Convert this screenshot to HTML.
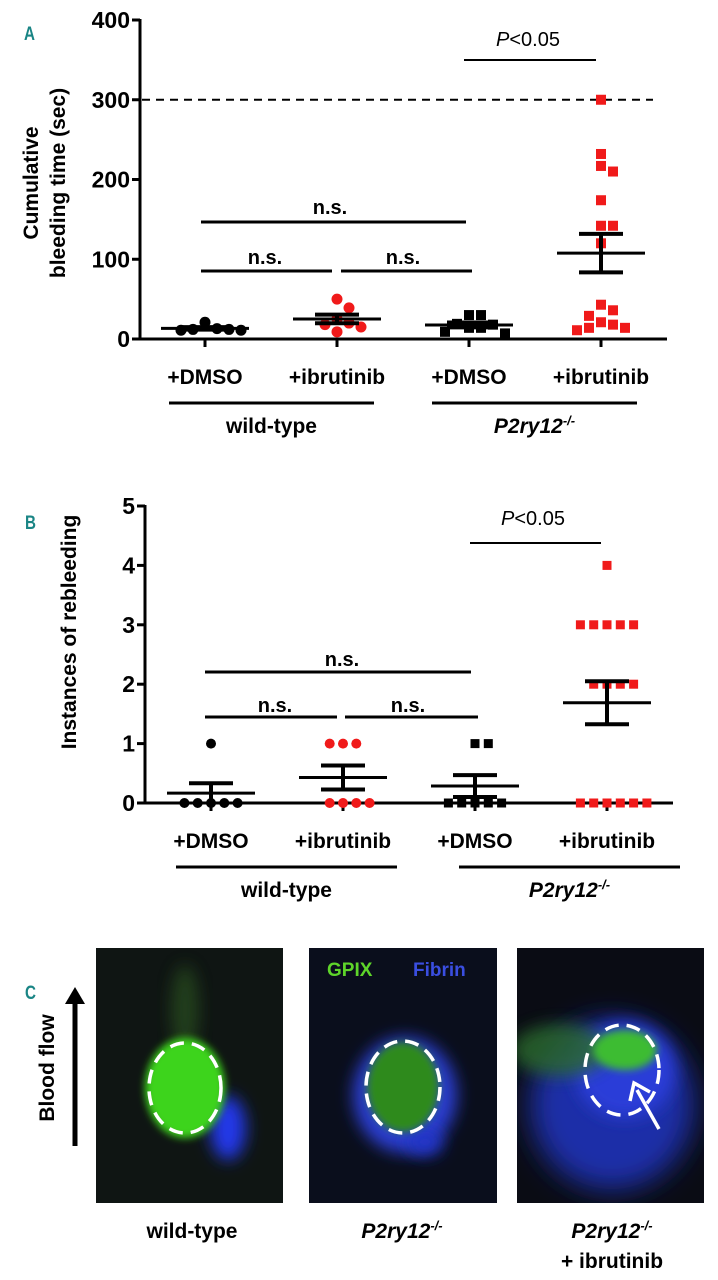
<!DOCTYPE html>
<html><head><meta charset="utf-8"><style>
html,body{margin:0;padding:0;background:#fff;}
svg{display:block;font-family:"Liberation Sans",sans-serif;}
.b{font-weight:bold;}
</style></head><body>
<svg id="fig" width="718" height="1280" viewBox="0 0 718 1280" xmlns="http://www.w3.org/2000/svg">
<defs>
<filter id="bl8" x="-50%" y="-50%" width="200%" height="200%"><feGaussianBlur stdDeviation="8"/></filter>
<filter id="bl4" x="-50%" y="-50%" width="200%" height="200%"><feGaussianBlur stdDeviation="4"/></filter>
<filter id="bl14" x="-50%" y="-50%" width="200%" height="200%"><feGaussianBlur stdDeviation="14"/></filter>
<clipPath id="c1"><rect x="96" y="948" width="187" height="255"/></clipPath>
<clipPath id="c2"><rect x="309" y="948" width="188" height="255"/></clipPath>
<clipPath id="c3"><rect x="517" y="948" width="187" height="255"/></clipPath>
</defs>

<!-- Panel letters -->
<text x="24" y="40" font-size="19" class="b" fill="#1a8585" transform="translate(24 0) scale(0.8 1) translate(-24 0)">A</text>
<text x="25" y="529" font-size="19" class="b" fill="#1a8585" transform="translate(25 0) scale(0.8 1) translate(-25 0)">B</text>
<text x="25" y="999" font-size="19" class="b" fill="#1a8585" transform="translate(25 0) scale(0.8 1) translate(-25 0)">C</text>

<!-- Panel A axes -->
<g id="axesA"></g>
<g id="marksA"></g>
<text class="b" font-size="21" text-anchor="middle" transform="translate(38 183) rotate(-90)">Cumulative</text>
<text class="b" font-size="21" text-anchor="middle" transform="translate(65 183) rotate(-90)">bleeding time (sec)</text>

<!-- Panel B -->
<g id="axesB"></g>
<g id="marksB"></g>
<text class="b" font-size="21" text-anchor="middle" transform="translate(76 632) rotate(-90)">Instances of rebleeding</text>

<!-- Panel C -->
<g>
<text class="b" font-size="21" text-anchor="middle" transform="translate(54 1068) rotate(-90)">Blood flow</text>
<line x1="75" y1="1146" x2="75" y2="1002" stroke="#000" stroke-width="5"/>
<polygon points="65,1004 85,1004 75,987" fill="#000"/>
</g>

<g clip-path="url(#c1)">
<rect x="96" y="948" width="187" height="255" fill="#0f1513"/>
<ellipse cx="185" cy="1010" rx="14" ry="45" fill="#2e5a22" opacity="0.6" filter="url(#bl8)"/>
<ellipse cx="228" cy="1128" rx="18" ry="32" fill="#2238e8" filter="url(#bl8)"/>
<ellipse cx="185" cy="1088" rx="40" ry="50" fill="#3ed41e" filter="url(#bl4)"/>
<ellipse cx="185" cy="1088" rx="36" ry="45" fill="none" stroke="#fff" stroke-width="3.5" stroke-dasharray="14 8"/>
</g>
<g clip-path="url(#c2)">
<rect x="309" y="948" width="188" height="255" fill="#0a0e1c"/>
<ellipse cx="405" cy="1095" rx="52" ry="58" fill="#2a3cd0" filter="url(#bl8)"/>
<ellipse cx="425" cy="1142" rx="18" ry="14" fill="#2434c8" filter="url(#bl8)"/>
<ellipse cx="403" cy="1087" rx="36" ry="45" fill="#2f8a1f" filter="url(#bl4)"/>
<ellipse cx="403" cy="1087" rx="37" ry="46" fill="none" stroke="#fff" stroke-width="3.5" stroke-dasharray="14 8"/>
<text class="b" font-size="19" x="327" y="976" fill="#5ed52a">GPIX</text>
<text class="b" font-size="19" x="413" y="976" fill="#3a4ee0">Fibrin</text>
</g>
<g clip-path="url(#c3)">
<rect x="517" y="948" width="187" height="255" fill="#0a0c14"/>
<ellipse cx="612" cy="1105" rx="82" ry="85" fill="#1e2ea8" filter="url(#bl14)"/>
<ellipse cx="625" cy="1070" rx="50" ry="48" fill="#2a3ed8" filter="url(#bl8)"/>
<ellipse cx="560" cy="1050" rx="48" ry="26" fill="#2c6a2a" opacity="0.8" filter="url(#bl8)"/>
<ellipse cx="625" cy="1050" rx="32" ry="20" fill="#3cbc30" filter="url(#bl4)"/>
<ellipse cx="622" cy="1070" rx="37" ry="45" fill="none" stroke="#fff" stroke-width="3.5" stroke-dasharray="14 8"/>
<line x1="659" y1="1129" x2="637" y2="1090" stroke="#fff" stroke-width="3.5"/>
<polyline points="630,1101 634,1083 650,1092" fill="none" stroke="#fff" stroke-width="3.5"/>
</g>
<text class="b" font-size="21" text-anchor="middle" x="192" y="1238">wild-type</text>
<text class="b" font-size="21" text-anchor="middle" x="402" y="1238" font-style="italic">P2ry12<tspan font-size="13" dy="-8">-/-</tspan></text>
<text class="b" font-size="21" text-anchor="middle" x="612" y="1238" font-style="italic">P2ry12<tspan font-size="13" dy="-8">-/-</tspan></text>
<text class="b" font-size="21" text-anchor="middle" x="612" y="1268">+ ibrutinib</text>
</svg>
<script>
// Panel A data (cumulative bleeding time, sec)
const categories = ["+DMSO", "+ibrutinib", "+DMSO", "+ibrutinib"];
const bleedWtDmso = [21, 12, 11, 11, 12, 13];
const bleedWtIbru = [50, 39, 25, 18, 15, 20, 9];
const bleedKoDmso = [30, 30, 19, 14, 18, 7, 9, 14];
const bleedKoIbru = [300, 232, 217, 210, 174, 142, 142, 120, 43, 36, 29, 21, 14, 11, 14, 18];
const ticksA = [0, 100, 200, 300, 400];
// Panel B data (instances of rebleeding)
const rebWtDmso = [1, 0, 0, 0, 0, 0];
const rebWtIbru = [1, 1, 1, 0, 0, 0, 0];
const rebKoDmso = [1, 1, 0, 0, 0, 0, 0];
const rebKoIbru = [4, 3, 3, 3, 3, 3, 2, 2, 2, 2, 0, 0, 0, 0, 0, 0];
const ticksB = [0, 1, 2, 3, 4, 5];
const cutoffA = 300;

const NS = "http://www.w3.org/2000/svg";
function mk(parent, tag, attrs, txt) {
  const e = document.createElementNS(NS, tag);
  for (const k in attrs) e.setAttribute(k, attrs[k]);
  if (txt !== undefined) e.textContent = txt;
  parent.appendChild(e);
  return e;
}
function stats(a) {
  const m = a.reduce((s, v) => s + v, 0) / a.length;
  const v = a.reduce((s, x) => s + (x - m) * (x - m), 0) / (a.length - 1);
  return [m, Math.sqrt(v) / Math.sqrt(a.length)];
}
function swarm(ys, step) {
  const placed = [];
  const order = ys.map((y, i) => i).sort((a, b) => ys[a] - ys[b]);
  const off = new Array(ys.length).fill(0);
  order.forEach(i => {
    const y = ys[i];
    for (let k = 0; k < 40; k++) {
      const o = (k % 2 ? 1 : -1) * Math.ceil(k / 2) * step;
      const ok = placed.every(p => Math.hypot(p[0] - o, p[1] - y) >= step - 0.5);
      if (ok) { off[i] = o; placed.push([o, y]); break; }
    }
  });
  return off;
}

function panel(cfg) {
  const ax = document.getElementById(cfg.axesId), mg = document.getElementById(cfg.marksId);
  const y = v => cfg.y0 - (v - cfg.vmin) / (cfg.vmax - cfg.vmin) * (cfg.y0 - cfg.y1);
  let el = mk(ax, "line", {x1: cfg.ax, y1: y(cfg.vmax) - 1, x2: cfg.ax, y2: cfg.y0 + 1.5, stroke: "#000", "stroke-width": 3});
  
  
  el = mk(ax, "line", {x1: cfg.ax - 1.5, y1: cfg.y0, x2: cfg.xEnd, y2: cfg.y0, stroke: "#000", "stroke-width": 3});
  
  
  cfg.ticks.forEach(t => {
    const tl = mk(ax, "line", {x1: cfg.ax - 8, y1: y(t), x2: cfg.ax, y2: y(t), stroke: "#000", "stroke-width": 3});
    
    
    const tx = mk(ax, "text", {x: cfg.ax - 10, y: y(t) + 8, "text-anchor": "end", "font-size": 23, "font-weight": "bold"}, String(t));
    
    
  });
  cfg.cx.forEach((x, i) => {
    const tl = mk(ax, "line", {x1: x, y1: cfg.y0, x2: x, y2: cfg.y0 + 8, stroke: "#000", "stroke-width": 3});
    
    
    const tx = mk(ax, "text", {x: x, y: cfg.y0 + 45, "text-anchor": "middle", "font-size": 21, "font-weight": "bold"}, categories[i]);
    
    
  });
  // group brackets
  cfg.groups.forEach(g => {
    const l = mk(ax, "line", {x1: g[0], y1: cfg.y0 + 64, x2: g[1], y2: cfg.y0 + 64, stroke: "#000", "stroke-width": 3});
    
    
  });
  let t = mk(ax, "text", {x: (cfg.groups[0][0] + cfg.groups[0][1]) / 2, y: cfg.y0 + 94, "text-anchor": "middle", "font-size": 21, "font-weight": "bold"}, "wild-type");
  
  
  t = mk(ax, "text", {x: (cfg.groups[1][0] + cfg.groups[1][1]) / 2, y: cfg.y0 + 94, "text-anchor": "middle", "font-size": 21, "font-weight": "bold", "font-style": "italic"});
  
  
  t.innerHTML = 'P2ry12<tspan font-size="13" dy="-8">-/-</tspan>';
  // significance
  cfg.sig.forEach(s => {
    const l = mk(ax, "line", {x1: s.x1, y1: s.ly, x2: s.x2, y2: s.ly, stroke: "#000", "stroke-width": s.w});
    
    
    const tx = mk(ax, "text", {x: s.tx, y: s.ty, "text-anchor": "middle", "font-size": s.fs, "font-weight": s.bold ? "bold" : "normal"});
    
    
    if (s.p) tx.innerHTML = '<tspan font-style="italic">P</tspan>&lt;0.05'; else tx.textContent = "n.s.";
  });
  if (cfg.cutoff !== undefined) {
    const l = mk(ax, "line", {x1: cfg.ax + 2, y1: y(cfg.cutoff), x2: cfg.xEnd - 14, y2: y(cfg.cutoff), stroke: "#000", "stroke-width": 2, "stroke-dasharray": "8 6"});
    
    
  }
  // marks
  cfg.series.forEach((data, i) => {
    const x = cfg.cx[i], col = i % 2 ? "#f01a1a" : "#000", sq = i >= 2;
    const offs = swarm(data.map(v => y(v)), cfg.step);
    data.forEach((v, j) => {
      let m;
      if (sq) m = mk(mg, "rect", {x: x + offs[j] - cfg.r, y: y(v) - cfg.r, width: cfg.r * 2, height: cfg.r * 2, fill: col});
      else m = mk(mg, "circle", {cx: x + offs[j], cy: y(v), r: cfg.r + 0.5, fill: col});
      
      
    });
    const st = stats(data);
    const m = st[0], se = st[1];
    let l = mk(mg, "line", {x1: x - 44, y1: y(m), x2: x + 44, y2: y(m), stroke: "#000", "stroke-width": 3});
    
    
    l = mk(mg, "line", {x1: x, y1: y(Math.max(m - se, cfg.vmin)), x2: x, y2: y(m + se), stroke: "#000", "stroke-width": 4});
    
    
    [m + se, m - se].forEach(v => {
      if (v < cfg.vmin) return;
      const c = mk(mg, "line", {x1: x - 22, y1: y(v), x2: x + 22, y2: y(v), stroke: "#000", "stroke-width": 4});
      
      
    });
  });
}

panel({
  axesId: "axesA", marksId: "marksA", ax: 140, y0: 339, y1: 20, vmin: 0, vmax: 400, xEnd: 667,
  ticks: ticksA, cx: [205, 337, 469, 601], cutoff: cutoffA, step: 12, r: 5,
  series: [bleedWtDmso, bleedWtIbru, bleedKoDmso, bleedKoIbru],
  groups: [[169, 374], [432, 637]],
  sig: [
    {x1: 464, x2: 596, ly: 60, tx: 528, ty: 46, fs: 20, w: 2, p: true},
    {x1: 201, x2: 466, ly: 222, tx: 330, ty: 214, fs: 20, w: 3, bold: true},
    {x1: 201, x2: 332, ly: 271, tx: 265, ty: 264, fs: 20, w: 3, bold: true},
    {x1: 341, x2: 472, ly: 271, tx: 403, ty: 264, fs: 20, w: 3, bold: true}
  ]
});
panel({
  axesId: "axesB", marksId: "marksB", ax: 145, y0: 803, y1: 506, vmin: 0, vmax: 5, xEnd: 673,
  ticks: ticksB, cx: [211, 343, 475, 607], step: 13.3, r: 4.5,
  series: [rebWtDmso, rebWtIbru, rebKoDmso, rebKoIbru],
  groups: [[176, 397], [459, 680]],
  sig: [
    {x1: 470, x2: 601, ly: 543, tx: 533, ty: 525, fs: 20, w: 2, p: true},
    {x1: 205, x2: 471, ly: 672, tx: 342, ty: 666, fs: 20, w: 3, bold: true},
    {x1: 205, x2: 337, ly: 717, tx: 275, ty: 712, fs: 20, w: 3, bold: true},
    {x1: 345, x2: 478, ly: 717, tx: 408, ty: 712, fs: 20, w: 3, bold: true}
  ]
});
</script>
</body></html>
